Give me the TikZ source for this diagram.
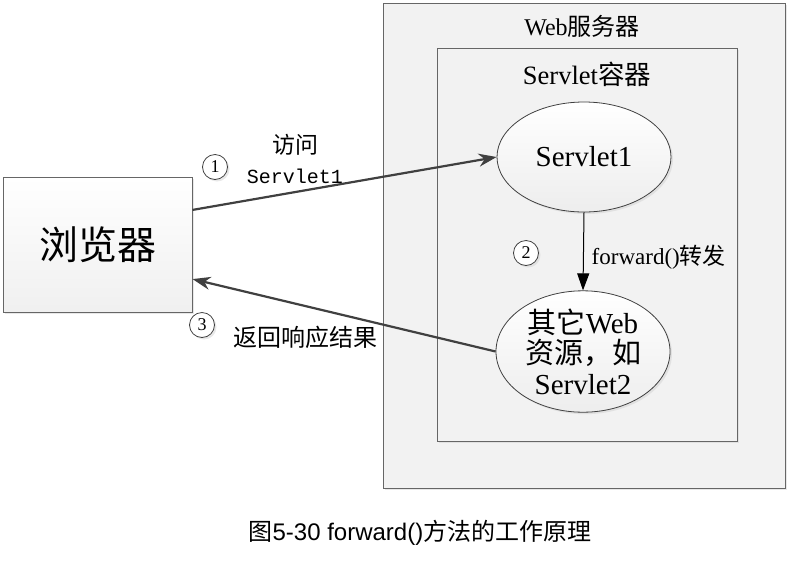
\documentclass[tikz,border=0pt]{standalone}
\usepackage{fontspec}
\setmainfont{Liberation Serif}
\setsansfont{Liberation Sans}
\setmonofont{Liberation Mono}
\newfontfamily\cjk{Noto Sans CJK SC}
\usepackage{xcolor}
\usepackage{tikz}
\usetikzlibrary{arrows.meta, positioning, shapes.geometric, shadows}

\definecolor{linegray}{HTML}{404040}
\definecolor{boxgray}{HTML}{F2F2F2}

\begin{document}
\begin{tikzpicture}[x=1pt, y=-1pt, thick,
    shadowed/.style={drop shadow={shadow xshift=2pt, shadow yshift=-2pt, fill=gray!35}},
    frame/.style={rectangle, draw=gray!80!black, line width=1pt, fill=boxgray, shadowed},
    servlet/.style={ellipse, draw=linegray, line width=0.8pt, minimum width=174pt, inner sep=0pt,
        top color=white, bottom color=gray!14, shadowed},
    step num/.style={circle, draw=linegray, line width=0.8pt, fill=white, minimum size=25pt,
        inner sep=0pt, font=\fontsize{18}{18}\selectfont, shadowed},
    label/.style={font=\fontsize{23}{27}\selectfont, align=center}]
    \useasboundingbox (0,0) rectangle (793,566);

    % containers
    \node[frame, minimum width=402pt, minimum height=485pt] (server) at (584,245.5) {};
    \node[font=\fontsize{24}{28}\selectfont] (serverlabel) at (582,26) {Web{\cjk 服务器}};
    \node[frame, minimum width=300pt, minimum height=393pt] (container) at (587,244.5) {};
    \node[font=\fontsize{26.5}{30}\selectfont] (containerlabel) at (587,74) {Servlet{\cjk 容器}};

    % browser
    \node[rectangle, draw=gray!80!black, line width=1pt, minimum width=189pt, minimum height=135pt,
        top color=white, bottom color=gray!12, shadowed, font=\fontsize{39}{43}\cjk] (browser) at (97.5,244.5) {浏览器};

    % servlets
    \node[servlet, minimum height=110pt, font=\fontsize{29}{33}\selectfont] (servlet1) at (584,157) {Servlet1};
    \node[servlet, minimum height=119pt, align=center, font=\fontsize{29}{30.5}\selectfont] (servlet2) at (583,351.5)
        {{\cjk 其它}Web\\{\cjk 资源，如}\\Servlet2};

    % arrows
    \draw[-{Stealth[length=18pt, width=13pt]}, line width=2.2pt, draw=linegray, fill=linegray] (browser.20) -- (servlet1.west);
    \draw[-{Triangle[length=17pt, width=12pt]}, line width=1pt, draw=black] (servlet1.south) -- (servlet2.north);
    \draw[-{Stealth[length=18pt, width=13pt]}, line width=2.2pt, draw=linegray, fill=linegray] (servlet2.west) -- (browser.-20);

    % step labels
    \node[step num] (one) at (215,167) {1};
    \node[label, font=\fontsize{23}{27}\cjk] (visit) at (295,145) {访问};
    \node[label, font=\fontsize{20}{24}\ttfamily] (visittarget) at (295,176) {Servlet1};
    \node[step num] (two) at (526,253) {2};
    \node[label, anchor=west] (forward) at (588,257) {forward(){\cjk 转发}};
    \node[step num] (three) at (202,325) {3};
    \node[label, font=\fontsize{24}{28}\cjk] (back) at (305,337) {返回响应结果};

    % caption
    \node[font=\fontsize{24}{28}\sffamily] (caption) at (420,533) {{\cjk 图}5-30 forward(){\cjk 方法的工作原理}};
\end{tikzpicture}
\end{document}
